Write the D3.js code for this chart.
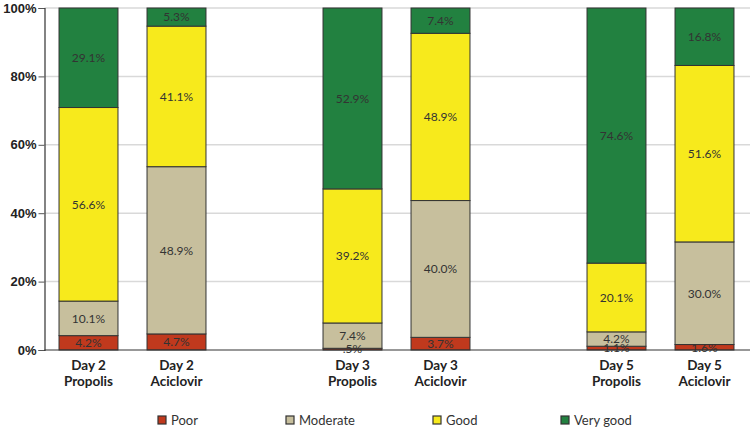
<!DOCTYPE html>
<html><head><meta charset="utf-8">
<script src="https://cdn.jsdelivr.net/npm/d3@7"></script>
<style>
body{margin:0;background:#fff;}
svg{display:block;font-family:Lato,"Open Sans",sans-serif;}
</style></head><body>
<svg id="c" width="750" height="429"></svg>
<script>
const categories = ["Day 2 Propolis","Day 2 Aciclovir","gap1","Day 3 Propolis","Day 3 Aciclovir","gap2","Day 5 Propolis","Day 5 Aciclovir"];
const seriesNames = ["Poor","Moderate","Good","Very good"];
const poor     = [4.2, 4.7, null, 0.5, 3.7, null, 1.1, 1.6];
const moderate = [10.1, 48.9, null, 7.4, 40.0, null, 4.2, 30.0];
const good     = [56.6, 41.1, null, 39.2, 48.9, null, 20.1, 51.6];
const veryGood = [29.1, 5.3, null, 52.9, 7.4, null, 74.6, 16.8];
const yTicks = [0, 20, 40, 60, 80, 100];
const colors = ["#c0391d", "#c7bf9d", "#f7ea1c", "#228140"];

const svg = d3.select("#c");
const pLeft = 44.5, pRight = 748.5, pTop = 8, pBottom = 350;
const x = d3.scaleBand().domain(categories).range([pLeft, pRight]).paddingInner(0.33).paddingOuter(0.165);
const y = d3.scaleLinear().domain([0, 100]).range([pBottom, pTop]);

// gridlines
svg.append("g").selectAll("line").data(yTicks.filter(d => d > 0)).join("line")
  .attr("x1", pLeft).attr("x2", 750).attr("y1", d => y(d)).attr("y2", d => y(d))
  .attr("stroke", "#d9d9d9").attr("stroke-width", 1.5);

// y axis
const yAxis = svg.append("g").attr("transform", `translate(${pLeft},0)`)
  .call(d3.axisLeft(y).tickValues(yTicks).tickFormat(d => d + "%").tickSize(6).tickPadding(2));
yAxis.select(".domain").attr("stroke", "#333").attr("stroke-width", 1.2);
yAxis.selectAll(".tick line").attr("stroke", "#555");
yAxis.selectAll("text").attr("font-size", 13).attr("font-weight", "bold").attr("fill", "#222");

// stacked data
const series = [poor, moderate, good, veryGood];
const rows = categories.map((c, i) => ({cat: c, i})).filter(r => poor[r.i] !== null);
rows.forEach(r => { let acc = 0; r.segs = series.map((s, k) => { const v = s[r.i]; const seg = {k, v, y0: acc, y1: acc + v}; acc += v; return seg; }); });

const bars = svg.append("g");
rows.forEach(r => {
  const g = bars.append("g");
  g.selectAll("rect").data(r.segs).join("rect")
    .attr("x", x(r.cat)).attr("width", x.bandwidth())
    .attr("y", d => y(d.y1)).attr("height", d => y(d.y0) - y(d.y1))
    .attr("fill", d => colors[d.k]).attr("stroke", "#333").attr("stroke-width", 1);
  g.selectAll("text").data(r.segs).join("text")
    .attr("x", x(r.cat) + x.bandwidth() / 2)
    .attr("y", d => y((d.y0 + d.y1) / 2)).attr("dy", "0.36em")
    .attr("text-anchor", "middle").attr("font-size", 12).attr("fill", "#333")
    .text(d => d.v.toFixed(1).replace(/^0\./, ".") + "%");
});

// x axis line
svg.append("line").attr("x1", pLeft).attr("x2", 750).attr("y1", pBottom).attr("y2", pBottom)
  .attr("stroke", "#333").attr("stroke-width", 1.2);

// x labels
const xl = svg.append("g");
rows.forEach(r => {
  const parts = r.cat.split(" ");
  const t = xl.append("text").attr("x", x(r.cat) + x.bandwidth() / 2).attr("y", 370)
    .attr("text-anchor", "middle").attr("font-size", 13.5).attr("font-weight", "bold").attr("fill", "#222");
  t.append("tspan").attr("x", x(r.cat) + x.bandwidth() / 2).text(parts[0] + " " + parts[1]);
  t.append("tspan").attr("x", x(r.cat) + x.bandwidth() / 2).attr("dy", 16).text(parts[2]);
});

// legend
const legX = [158, 286, 433, 561];
const leg = svg.append("g");
seriesNames.forEach((n, k) => {
  leg.append("rect").attr("x", legX[k]).attr("y", 416).attr("width", 8).attr("height", 8)
    .attr("fill", colors[k]).attr("stroke", "#333").attr("stroke-width", 1.2);
  leg.append("text").attr("x", legX[k] + 13).attr("y", 420).attr("dy", "0.36em")
    .attr("font-size", 13).attr("fill", "#333").text(n);
});
</script></body></html>
